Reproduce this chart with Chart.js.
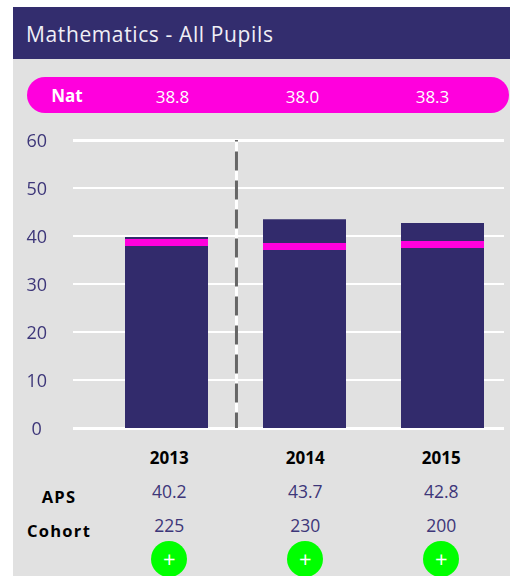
<!DOCTYPE html>
<html>
<head>
<meta charset="utf-8">
<script src="https://cdn.jsdelivr.net/npm/chart.js@4"></script>
<style>
html,body{margin:0;padding:0;background:#fff;width:510px;height:576px;overflow:hidden;font-family:"Open Sans",sans-serif}
#panel{position:absolute;left:13px;top:7px;width:497px;height:569px;background:#e1e1e1}
#head{position:absolute;left:13px;top:7px;width:497px;height:52px;background:#332d6e}
#title{position:absolute;left:26px;top:7px;height:52px;line-height:55px;font-size:21px;letter-spacing:.62px;color:#f0eff6;white-space:nowrap}
#pill{position:absolute;left:27px;top:77px;width:482px;height:36px;border-radius:18px;background:#ff00dd}
.t{position:absolute;transform:translate(-50%,-50%);white-space:nowrap;line-height:1}
.nat{color:#fff;font-size:17px}
.yr{color:#000;font-weight:700;font-size:17px}
.val{color:#3d3679;font-size:17.5px}
.lab{color:#000;font-weight:700;font-size:16.5px;letter-spacing:1.3px}
.dot{position:absolute;width:36px;height:36px;border-radius:50%;background:#00ff00;color:#fff;font-size:22px;line-height:34px;text-align:center;transform:translateX(-50%)}
canvas{position:absolute;left:0;top:0}
</style>
</head>
<body>
<div id="panel"></div><div id="head"></div>
<div id="title">Mathematics - All Pupils</div>
<div id="pill"></div>
<div id="txt"></div>
<canvas id="c" width="510" height="576"></canvas>
<script>
const years = ["2013", "2014", "2015"];
const barValues = [39.8, 43.5, 42.7];
const natBandLow = [37.92, 37.08, 37.5];
const natBandHigh = [39.38, 38.54, 38.96];
const natLabels = ["38.8", "38.0", "38.3"];
const apsLabels = ["40.2", "43.7", "42.8"];
const cohortLabels = ["225", "230", "200"];
const yTicks = [0, 10, 20, 30, 40, 50, 60];
const dividerX = [0.507, 0.507];
const dividerY = [60, 0];

const natX = [172.5, 302.5, 432.5];
const colX = [169.3, 305.3, 441.3];
const txt = document.getElementById('txt');
function put(s, cls, x, y) {
  const d = document.createElement('div');
  d.className = 't ' + cls; d.textContent = s;
  d.style.left = x + 'px'; d.style.top = y + 'px';
  txt.appendChild(d);
}
put('Nat', 'nat', 67, 95);
txt.lastChild.style.fontWeight = '700';
natLabels.forEach((s, i) => put(s, 'nat', natX[i], 96));
years.forEach((s, i) => put(s, 'yr', colX[i], 456.5));
apsLabels.forEach((s, i) => put(s, 'val', colX[i], 492));
cohortLabels.forEach((s, i) => put(s, 'val', colX[i], 526));
put('APS', 'lab', 59, 497);
put('Cohort', 'lab', 59, 531);
colX.forEach(x => {
  const d = document.createElement('div');
  d.className = 'dot'; d.textContent = '+';
  d.style.left = x + 'px'; d.style.top = '541px';
  txt.appendChild(d);
});

const idx = years.map((_, i) => i);
new Chart(document.getElementById('c'), {
  type: 'bar',
  data: {
    datasets: [
      {
        type: 'line', order: 0, label: 'divider dash',
        data: dividerX.map((x, i) => ({x, y: dividerY[i]})),
        borderColor: '#666666', borderWidth: 3, borderDash: [19, 10], borderDashOffset: 17.5,
        pointRadius: 0, clip: false
      },
      {
        type: 'line', order: 1, label: 'divider',
        data: dividerX.map((x, i) => ({x, y: dividerY[i]})),
        borderColor: '#ffffff', borderWidth: 3, pointRadius: 0, clip: false
      },
      {
        type: 'bar', order: 2, label: 'Nat',
        data: idx.map(i => ({x: i, y: [natBandLow[i], natBandHigh[i]]})),
        backgroundColor: '#ff00dd', barThickness: 83, borderWidth: 0, grouped: false, inflateAmount: 0
      },
      {
        type: 'bar', order: 3, label: 'APS',
        data: idx.map(i => ({x: i, y: barValues[i]})),
        base: 0.000001,
        backgroundColor: '#322b6c', barThickness: 83, borderWidth: 0, grouped: false, inflateAmount: 0
      }
    ]
  },
  options: {
    responsive: false, animation: false,
    layout: {padding: {left: 0, right: 6, top: 140, bottom: 148}},
    plugins: {legend: {display: false}, tooltip: {enabled: false}},
    scales: {
      x: {
        type: 'linear', min: -0.67754, max: 2.44565, display: false, offset: false,
        grid: {display: false}
      },
      y: {
        min: 0, max: 60,
        afterBuildTicks: s => { s.ticks = yTicks.map(v => ({value: v})); },
        afterFit: s => { s.width = 73; },
        border: {display: false},
        grid: {
          color: '#ffffff', drawTicks: false, tickLength: 0,
          lineWidth: c => (c.tick.value === 0 || c.tick.value === 60) ? 3 : 2
        },
        ticks: {
          color: '#3d3679', padding: 26, crossAlign: 'center', labelOffset: 2,
          font: {family: '"Open Sans"', size: 18}
        }
      }
    }
  }
});
</script>
</body>
</html>
